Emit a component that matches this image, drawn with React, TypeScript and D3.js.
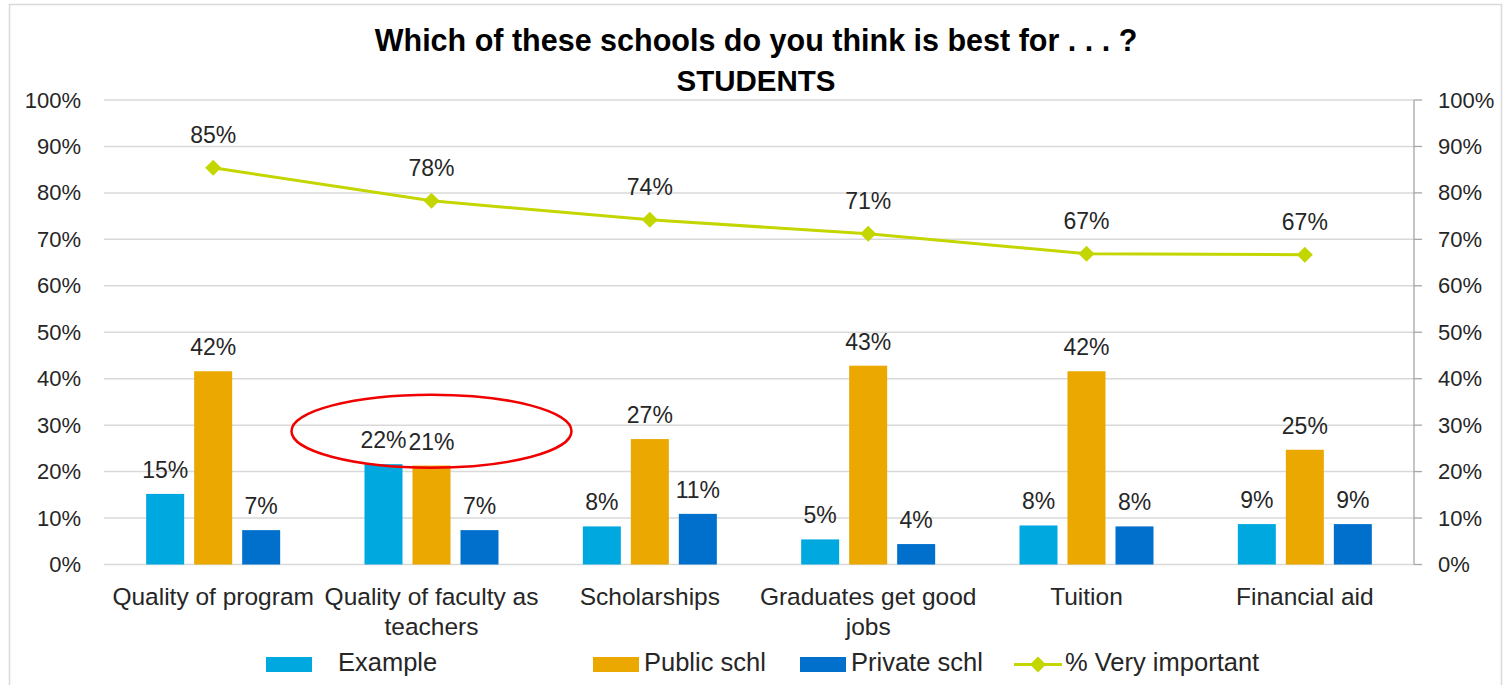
import React from "react";
import * as d3 from "d3";

const categories = [
  "Quality of program",
  "Quality of faculty as teachers",
  "Scholarships",
  "Graduates get good jobs",
  "Tuition",
  "Financial aid",
];
const seriesNames = ["Example", "Public schl", "Private schl"];
const exampleValues = [15.2, 21.6, 8.2, 5.4, 8.4, 8.7];
const publicValues = [41.6, 21.3, 27.0, 42.8, 41.6, 24.7];
const privateValues = [7.4, 7.4, 10.9, 4.4, 8.2, 8.7];
const veryImportant = [85.4, 78.3, 74.2, 71.2, 66.9, 66.7];
const lineName = "% Very important";
const yTicks = [0, 10, 20, 30, 40, 50, 60, 70, 80, 90, 100];
const titleLines = ["Which of these schools do you think is best for . . . ?", "STUDENTS"];

const W = 1503;
const H = 685;
const colors = ["#00A8E0", "#EAA800", "#0070CC"];
const lineColor = "#C4D600";
const FONT = "'Liberation Sans', Arial, sans-serif";

function wrap(text: string, maxW: number, font: string): string[] {
  const c = document.createElement("canvas").getContext("2d");
  if (!c) return [text];
  c.font = font;
  const words = text.split(" ");
  const lines: string[] = [];
  let cur = "";
  for (const w of words) {
    const t = cur ? cur + " " + w : w;
    if (c.measureText(t).width > maxW && cur) {
      lines.push(cur);
      cur = w;
    } else cur = t;
  }
  if (cur) lines.push(cur);
  return lines;
}

export default function App() {
  const left = 104;
  const right = 1414;
  const y = d3.scaleLinear().domain([0, 100]).range([564.5, 100]);
  const x0 = d3.scaleBand<string>().domain(categories).range([left, right]).padding(0);
  const groupW = 134;
  const x1 = d3.scaleBand<string>().domain(seriesNames).range([0, groupW]).paddingInner(10 / 48).paddingOuter(0);
  const groupOffset = (x0.bandwidth() - groupW) / 2;
  const seriesValues = [exampleValues, publicValues, privateValues];

  const linePts: [number, number][] = veryImportant.map((v, i) => [
    (x0(categories[i]) as number) + x0.bandwidth() / 2,
    y(v),
  ]);
  const lineGen = d3.line();
  const diamond = (cx: number, cy: number, r: number) =>
    `M${cx},${cy - r}L${cx + r},${cy}L${cx},${cy + r}L${cx - r},${cy}Z`;

  const catFont = `24.5px ${FONT}`;
  const legendItems = [
    { name: seriesNames[0], type: "bar", color: colors[0], sx: 266, sw: 46, tx: 338 },
    { name: seriesNames[1], type: "bar", color: colors[1], sx: 593, sw: 46, tx: 644 },
    { name: seriesNames[2], type: "bar", color: colors[2], sx: 800, sw: 46, tx: 851 },
    { name: lineName, type: "line", color: lineColor, sx: 1014, sw: 48, tx: 1065 },
  ];

  const ellipseCat = categories[1];
  return (
    <svg width={W} height={H} style={{ position: "absolute", left: 0, top: 0 }} fontFamily={FONT}>
      <rect x={0} y={0} width={W} height={H} fill="#fff" />
      <rect x={9.5} y={4.5} width={1492} height={700} fill="#fff" stroke="#d9d9d9" strokeWidth={1.5} />
      {titleLines.map((t, i) => (
        <text key={t} x={756} y={51 + i * 40} textAnchor="middle" fontWeight="bold" fontSize={i === 0 ? 30.5 : 29.5} fill="#000">
          {t}
        </text>
      ))}
      {/* gridlines */}
      {yTicks.map((t) => (
        <line key={t} x1={left} x2={right} y1={y(t)} y2={y(t)} stroke="#d9d9d9" strokeWidth={1.5} />
      ))}
      {/* right axis */}
      <line x1={right} x2={right} y1={y(100)} y2={y(0)} stroke="#a6a6a6" strokeWidth={1.3} />
      {yTicks.map((t) => (
        <line key={"rt" + t} x1={right} x2={right + 8} y1={y(t)} y2={y(t)} stroke="#a6a6a6" strokeWidth={1.3} />
      ))}
      {yTicks.map((t) => (
        <text key={"l" + t} x={81} y={y(t) + 7.5} textAnchor="end" fontSize={22} fill="#262626">
          {t}%
        </text>
      ))}
      {yTicks.map((t) => (
        <text key={"r" + t} x={1438} y={y(t) + 7.5} textAnchor="start" fontSize={22} fill="#262626">
          {t}%
        </text>
      ))}
      {/* bars */}
      {categories.map((c, i) => (
        <g key={c} transform={`translate(${(x0(c) as number) + groupOffset},0)`}>
          {seriesNames.map((s, j) => {
            const v = seriesValues[j][i];
            const bx = x1(s) as number;
            return (
              <g key={s}>
                <rect x={bx} y={y(v)} width={x1.bandwidth()} height={y(0) - y(v)} fill={colors[j]} />
                <text x={bx + x1.bandwidth() / 2} y={y(v) - 16} textAnchor="middle" fontSize={23} fill="#262626">
                  {Math.round(v)}%
                </text>
              </g>
            );
          })}
        </g>
      ))}
      {/* line */}
      <path d={lineGen(linePts) || ""} fill="none" stroke={lineColor} strokeWidth={3} />
      {linePts.map(([cx, cy], i) => (
        <g key={"m" + i}>
          <path d={diamond(cx, cy, 8)} fill={lineColor} />
          <text x={cx} y={cy - 25} textAnchor="middle" fontSize={23} fill="#262626">
            {Math.round(veryImportant[i])}%
          </text>
        </g>
      ))}
      {/* category labels */}
      {categories.map((c) => {
        const lines = wrap(c, 224, catFont);
        const cx = (x0(c) as number) + x0.bandwidth() / 2;
        return (
          <text key={"c" + c} x={cx} textAnchor="middle" fontSize={24.5} fill="#262626">
            {lines.map((l, k) => (
              <tspan key={k} x={cx} y={605 + k * 30}>
                {l}
              </tspan>
            ))}
          </text>
        );
      })}
      {/* annotation ellipse */}
      <ellipse
        cx={(x0(ellipseCat) as number) + x0.bandwidth() / 2}
        cy={y(28.7)}
        rx={140}
        ry={36.5}
        fill="none"
        stroke="#F00000"
        strokeWidth={2.5}
      />
      {/* legend */}
      {legendItems.map((it) => (
        <g key={it.name}>
          {it.type === "bar" ? (
            <rect x={it.sx} y={657} width={it.sw} height={15} fill={it.color} />
          ) : (
            <g>
              <line x1={it.sx} x2={it.sx + it.sw} y1={664.5} y2={664.5} stroke={it.color} strokeWidth={3} />
              <path d={diamond(it.sx + it.sw / 2, 664.5, 8)} fill={it.color} />
            </g>
          )}
          <text x={it.tx} y={671} fontSize={25.5} fill="#262626">
            {it.name}
          </text>
        </g>
      ))}
    </svg>
  );
}
